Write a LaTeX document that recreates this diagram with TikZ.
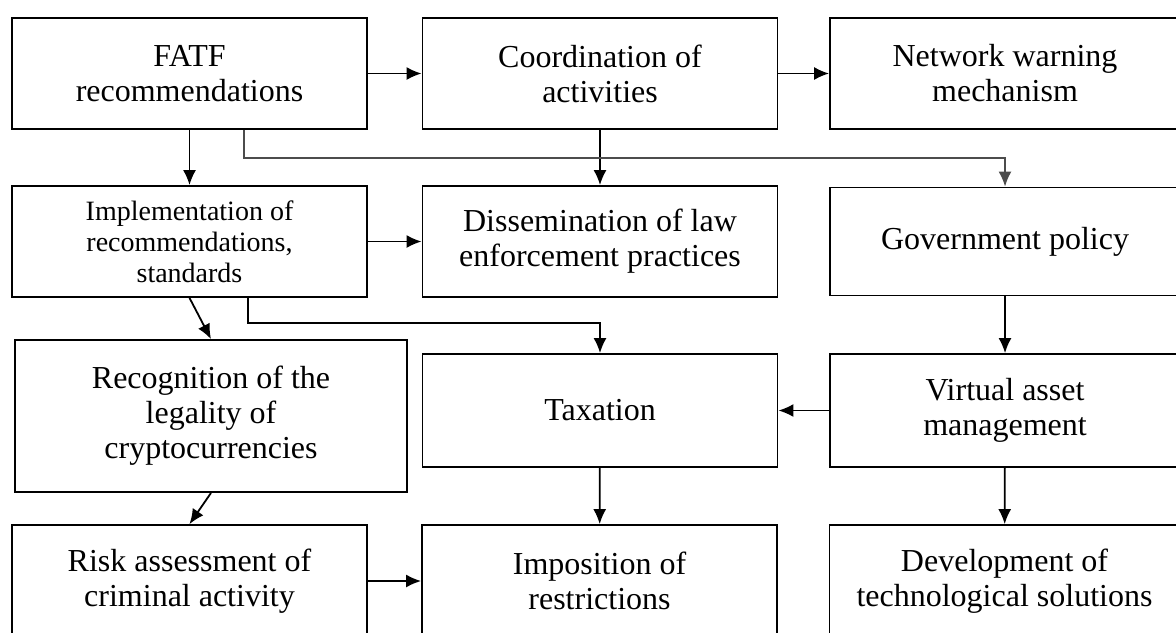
\documentclass[tikz,border=0pt]{standalone}
\usepackage{fontspec}
\setmainfont{Liberation Serif}
\usetikzlibrary{positioning}
\usetikzlibrary{arrows.meta}
\tikzstyle{block} = [draw, rectangle, line width=0.9pt, align=center, minimum width=177.5pt, minimum height=55.5pt, font=\fontsize{16}{17.5}\selectfont]
\tikzstyle{small block} = [block, font=\fontsize{14}{15.5}\selectfont]
\tikzstyle{wide block} = [block, minimum width=175pt]
\tikzstyle{link} = [->, line width=0.9pt]

\begin{document}
\begin{tikzpicture}[>={Latex[length=7.5pt,width=6.5pt]}]
    \useasboundingbox (0,0) rectangle (588pt,-316pt);

    \node[block, name=fatf] at (94.75pt,-36.75pt) {FATF\\recommendations};
    \node[block, right of=fatf, name=coord, node distance=205.25pt] {Coordination of\\activities};
    \node[wide block, right of=coord, name=warning, node distance=202.5pt] {Network warning\\mechanism};

    \node[small block, below of=fatf, name=implement, node distance=84pt] {Implementation of\\recommendations,\\standards};
    \node[block, right of=implement, name=dissem, node distance=205.25pt] {Dissemination of law\\enforcement practices};
    \node[wide block, right of=dissem, name=govpolicy, node distance=202.5pt, minimum height=54pt] {Government policy};

    \node[block, below of=implement, name=recognition, node distance=87.25pt, xshift=10.75pt, minimum width=196pt, minimum height=76pt] {Recognition of the\\legality of\\cryptocurrencies};
    \node[block, below of=dissem, name=taxation, node distance=84.5pt, minimum height=56.5pt] {Taxation};
    \node[wide block, right of=taxation, name=vasset, node distance=202.5pt, minimum height=56.5pt] {Virtual asset\\management};

    \node[block, below of=implement, name=risk, node distance=169.75pt, minimum height=56pt] {Risk assessment of\\criminal activity};
    \node[block, right of=risk, name=restrict, node distance=205pt, minimum height=56pt] {Imposition of\\restrictions};
    \node[wide block, right of=restrict, name=techsol, node distance=202.5pt, minimum height=56pt] {Development of\\technological solutions};

    \draw[link] (fatf) -- (coord);
    \draw[link] (coord) -- (warning);
    \draw[link] (fatf) -- (implement);
    \draw[link] (coord) -- (dissem);
    \draw[link, draw=black!70] ([xshift=27.25pt]fatf.south) -- ++(0,-14pt) -| (govpolicy.north);
    \draw[link] (implement) -- (dissem);
    \draw[link] (implement.south) -- (recognition.north);
    \draw[link] ([xshift=29.25pt]implement.south) -- ++(0,-12.5pt) -| (taxation.north);
    \draw[link] (govpolicy) -- (vasset);
    \draw[link] (vasset) -- (taxation);
    \draw[link] (taxation) -- (restrict);
    \draw[link] (vasset) -- (techsol);
    \draw[link] (recognition.south) -- (risk.north);
    \draw[link] (risk) -- (restrict);
\end{tikzpicture}
\end{document}
